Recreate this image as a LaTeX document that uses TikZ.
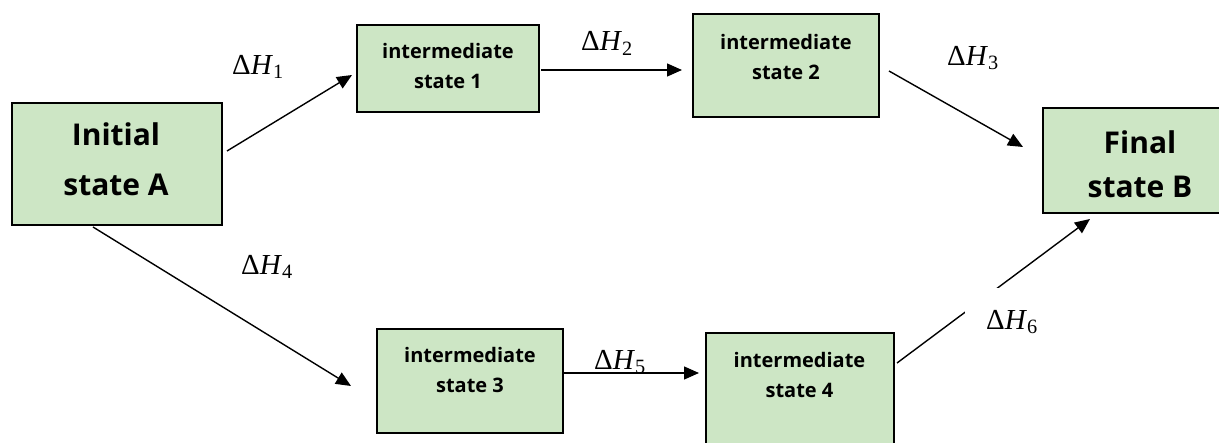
\documentclass[tikz,border=0pt]{standalone}
\usepackage{fontspec}
\setmainfont{Liberation Serif}
\newfontfamily\boxfont{Open Sans}
\usetikzlibrary{arrows.meta}
\definecolor{boxgreen}{RGB}{205,230,197}
\tikzset{
  box/.style={draw=black, line width=1.6pt, fill=boxgreen, inner sep=0pt},
  bigtxt/.style={font=\boxfont\bfseries\fontsize{30}{50}\selectfont, align=center, inner sep=0pt},
  smalltxt/.style={font=\boxfont\bfseries\fontsize{20}{30}\selectfont, align=center, inner sep=0pt},
  dh/.style={font=\fontsize{29}{32}\selectfont, inner sep=0pt},
  arr/.style={line width=1.4pt, -{Triangle[length=15pt,width=13pt]}},
}
\newcommand{\dH}[1]{Δ\textit{H}\textsubscript{#1}}
\begin{document}
\begin{tikzpicture}[x=1pt,y=-1pt]
\useasboundingbox (0,0) rectangle (1219,443);
\clip (0,0) rectangle (1219,443);
% boxes
\node[box, minimum width=210pt, minimum height=122pt] (A) at (117,164) {};
\node[box, minimum width=182pt, minimum height=87pt] (is1) at (448,68.5) {};
\node[box, minimum width=186pt, minimum height=103pt] (is2) at (786,65.5) {};
\node[box, minimum width=182pt, minimum height=105pt] (B) at (1134,160.5) {};
\node[box, minimum width=186pt, minimum height=104pt] (is3) at (470,381) {};
\node[box, minimum width=188pt, minimum height=137pt] (is4) at (800,401.5) {};
% texts
\node[bigtxt] (At) at (116,159) {Initial\\state A};
\node[bigtxt, font=\boxfont\bfseries\fontsize{30}{44}\selectfont] (Bt) at (1140,164) {Final\\state B};
\node[smalltxt] (is1t) at (448,66.5) {intermediate\\state 1};
\node[smalltxt] (is2t) at (786,57.5) {intermediate\\state 2};
\node[smalltxt] (is3t) at (470,370.5) {intermediate\\state 3};
\node[smalltxt] (is4t) at (799.5,375.5) {intermediate\\state 4};
% arrow end points
\coordinate (a1s) at (227,151); \coordinate (a1e) at (352,75);
\coordinate (a2s) at (541,70);  \coordinate (a2e) at (682,70);
\coordinate (a3s) at (889,71);  \coordinate (a3e) at (1023,147);
\coordinate (a4s) at (93,227);  \coordinate (a4e) at (351,386);
\coordinate (a5s) at (563,373); \coordinate (a5e) at (699,373);
\coordinate (a6s) at (897,363); \coordinate (a6e) at (1090,219);
\draw[arr] (a1s) -- (a1e);
\draw[arr] (a2s) -- (a2e);
\draw[arr] (a3s) -- (a3e);
\draw[arr] (a4s) -- (a4e);
\draw[arr] (a5s) -- (a5e);
\draw[arr] (a6s) -- (a6e);
% labels
\node[dh] (h1) at (258,67) {\dH{1}};
\node[dh] (h2) at (607,43) {\dH{2}};
\node[dh] (h3) at (973,58) {\dH{3}};
\node[dh] (h4) at (267,267) {\dH{4}};
\node[dh] (h5) at (620,362) {\dH{5}};
\node[dh, fill=white, minimum width=95pt, minimum height=68pt] (h6) at (1012,322) {\dH{6}};
\end{tikzpicture}
\end{document}
